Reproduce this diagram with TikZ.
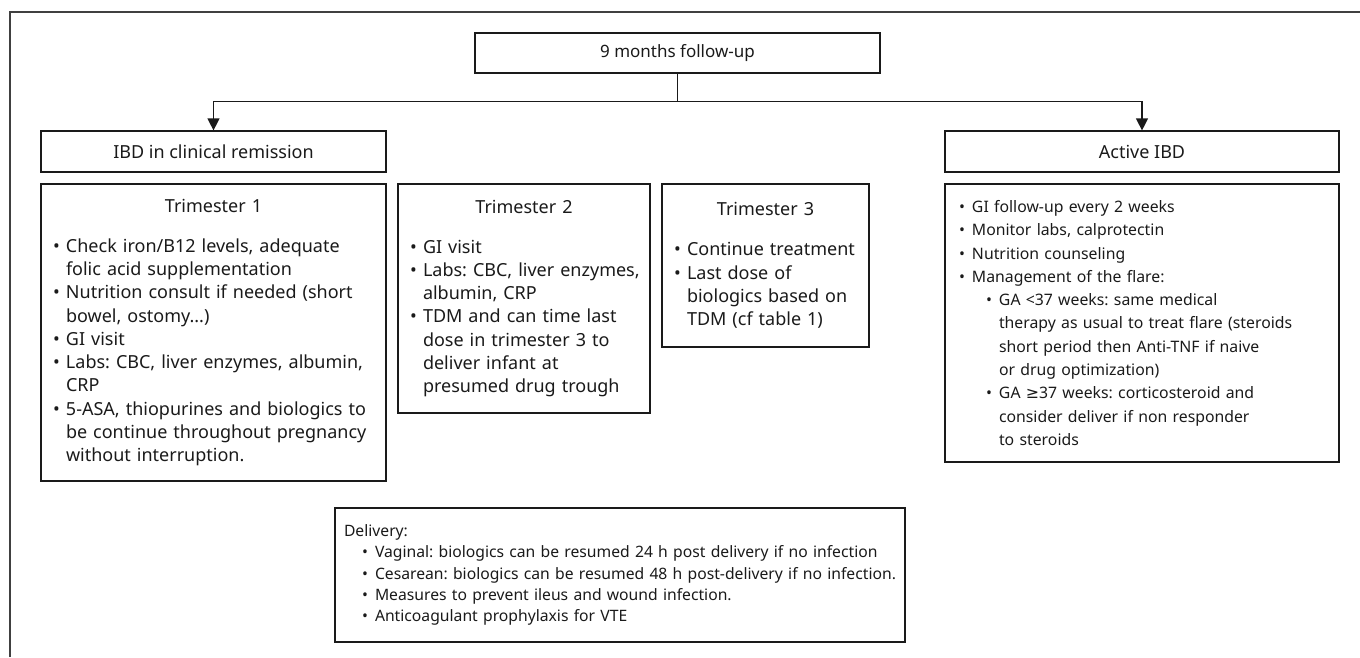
\documentclass[tikz,border=0pt]{standalone}
\usepackage{fontspec}
\setmainfont{Noto Sans}
\newfontfamily\dv{DejaVu Sans}
\usetikzlibrary{arrows.meta}
\definecolor{ink}{HTML}{1A1A1A}
\definecolor{framec}{HTML}{404040}
\newcommand{\bl}{\makebox[13pt][l]{\textbullet}}
\newcommand{\ind}{\hspace*{13pt}}
\newcommand{\li}[1]{\mbox{\bl #1}}
\newcommand{\lc}[1]{\mbox{\ind #1}}
\newcommand{\ttl}[1]{\makebox[\linewidth][c]{#1}}
\begin{document}
\frenchspacing
\begin{tikzpicture}[x=1pt,y=-1pt,
  box/.style={draw=ink, line width=1.2pt, text=ink, inner sep=0pt,
    font=\fontsize{18}{23.3}\selectfont, align=left},
  headbox/.style={box, align=center},
  conn/.style={draw=ink, line width=1.2pt},
  arr/.style={conn, -{Triangle[width=12pt,length=12pt]}},
  frame/.style={draw=framec, line width=1.6pt}]
\useasboundingbox (0,0) rectangle (1360,657);
\coordinate (fb) at (10,657);
\coordinate (fc) at (10,12);
\coordinate (fr) at (1360,12);
\draw[frame] (fb) -- (fc) -- (fr);

\node[headbox, font=\fontsize{17}{20}\selectfont, minimum width=405pt, minimum height=40pt] (top) at (677.5,53) {9 months follow-up};
\node[headbox, minimum width=345pt, minimum height=41pt] (rem) at (213.5,151.5) {IBD in clinical remission};
\node[headbox, minimum width=394pt, minimum height=41pt] (act) at (1142,151.5) {Active IBD};

\node[box, minimum width=345pt, minimum height=297pt, text width=321pt] (t1) at (213.5,332.5) {%
\ttl{Trimester 1}\\[16.7pt]
\li{Check iron/B12 levels, adequate}\\
\lc{folic acid supplementation}\\
\li{Nutrition consult if needed (short}\\
\lc{bowel, ostomy...)}\\
\li{GI visit}\\
\li{Labs: CBC, liver enzymes, albumin,}\\
\lc{CRP}\\
\li{5-ASA, thiopurines and biologics to}\\
\lc{be continue throughout pregnancy}\\
\lc{without interruption.}};

\node[box, minimum width=252pt, minimum height=229pt, text width=228pt] (t2) at (524,298.5) {%
\ttl{Trimester 2}\\[16.7pt]
\li{GI visit}\\
\li{Labs: CBC, liver enzymes,}\\
\lc{albumin, CRP}\\
\li{TDM and can time last}\\
\lc{dose in trimester 3 to}\\
\lc{deliver infant at}\\
\lc{presumed drug trough}};

\node[box, minimum width=207pt, minimum height=163pt, text width=183pt] (t3) at (765.5,265.5) {%
\ttl{Trimester 3}\\[16.7pt]
\li{Continue treatment}\\
\li{Last dose of}\\
\lc{biologics based on}\\
\lc{TDM (cf table 1)}};

\node[box, font=\fontsize{15.8}{23.3}\selectfont, minimum width=394pt, minimum height=278pt, text width=366pt] (ab) at (1142,323) {%
\li{GI follow-up every 2 weeks}\\
\li{Monitor labs, calprotectin}\\
\li{Nutrition counseling}\\
\li{Management of the flare:}\\
\mbox{\ind\hspace*{14pt}\bl GA <37 weeks: same medical}\\
\mbox{\ind\hspace*{14pt}\ind therapy as usual to treat flare (steroids}\\
\mbox{\ind\hspace*{14pt}\ind short period then Anti-TNF if naive}\\
\mbox{\ind\hspace*{14pt}\ind or drug optimization)}\\
\mbox{\ind\hspace*{14pt}\bl GA {\dv ≥}37 weeks: corticosteroid and}\\
\mbox{\ind\hspace*{14pt}\ind consider deliver if non responder}\\
\mbox{\ind\hspace*{14pt}\ind to steroids}};

\node[box, font=\fontsize{15.7}{21.25}\selectfont, minimum width=570pt, minimum height=134pt, text width=552pt] (del) at (620,575) {%
Delivery:\\
\mbox{\hspace*{18pt}\bl Vaginal: biologics can be resumed 24 h post delivery if no infection}\\
\mbox{\hspace*{18pt}\bl Cesarean: biologics can be resumed 48 h post-delivery if no infection.}\\
\mbox{\hspace*{18pt}\bl Measures to prevent ileus and wound infection.}\\
\mbox{\hspace*{18pt}\bl Anticoagulant prophylaxis for VTE}};

\draw[conn] (top.south) -- ++(0,28) coordinate (split);
\draw[arr] (split) -| (rem.north);
\draw[arr] (split) -| (act.north);
\end{tikzpicture}
\end{document}
